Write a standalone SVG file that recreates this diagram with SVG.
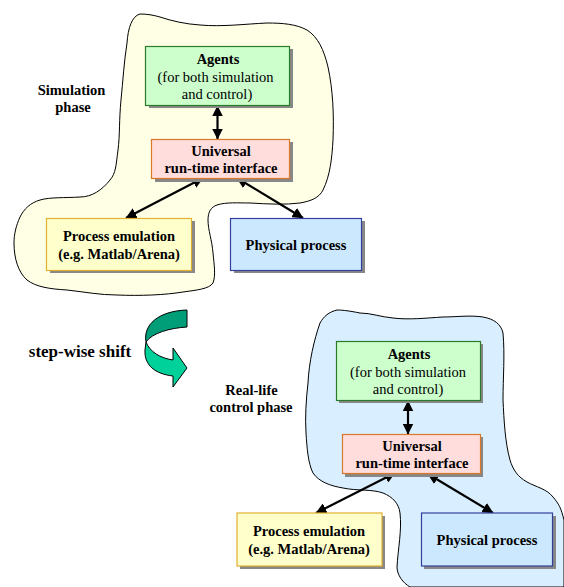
<svg xmlns="http://www.w3.org/2000/svg" width="564" height="587" viewBox="0 0 564 587">
<style>
text{font-family:"Liberation Serif","Times New Roman",serif;font-size:14.500px;fill:#000;text-anchor:middle}
.b{font-weight:bold}
.blob{stroke:#000;stroke-width:1}
.sh{fill:#888}
.a{fill:#cfc;stroke:#2a7a2a;stroke-width:1.2}
.u{fill:#fdd;stroke:#d9782a;stroke-width:1.2}
.p{fill:#ffc;stroke:#e0b030;stroke-width:1.2}
.r{fill:#cce8ff;stroke:#33409a;stroke-width:1.2}
.c{stroke:#000;stroke-width:2.200;fill:none;marker-start:url(#s);marker-end:url(#e)}
</style>
<defs>
<marker id="e" viewBox="0 0 10 10" refX="9.500" refY="5" markerWidth="5" markerHeight="5" orient="auto" markerUnits="strokeWidth"><path d="M0 0L10 5L0 10z" fill="#000"/></marker>
<marker id="s" viewBox="0 0 10 10" refX="0.500" refY="5" markerWidth="5" markerHeight="5" orient="auto" markerUnits="strokeWidth"><path d="M10 0L0 5L10 10z" fill="#000"/></marker>
</defs>
<g id="simulation-region"><path class="blob" fill="#ffffe6" d="M127 43C124 62 123 80 121 100C119 120 120 135 118 150C116 165 116 173 110 180C102 190 92 197 80 197C65 198 50 197 40 200C30 203 24 209 20 217C16 226 14 234 14 243C14 258 18 272 27 280C36 287 50 289 67 290C85 292 100 295 117 295C140 296 165 295 183 292C197 290 209 289 213 283C216 275 214 264 213 253C212 240 208 230 208 220C208 212 211 207 217 205C226 202 238 203 250 203C268 204 285 205 300 203C311 201 319 198 323 190C330 176 332 158 333 140C334 115 333 90 328 67C324 50 318 37 307 30C296 24 282 23 267 23C245 24 222 27 200 25C185 24 172 21 160 17C153 15 147 14 140 14C132 16 128 28 127 43z"/></g>
<g id="reallife-region"><path class="blob" fill="#d9efff" d="M320 323C314 340 309 362 308 383C306 400 305 418 306 433C307 448 308 463 313 473C319 482 331 486 343 488C357 491 372 489 383 493C393 497 399 504 400 513C402 530 398 549 397 567C397 575 403 583 410 587L564 587L564 520C561 508 559 504 553 497C547 489 536 487 527 482C518 477 513 470 510 460C505 442 504 420 503 400C503 378 505 355 503 333C501 324 494 319 483 317C470 315 456 317 443 317C426 318 409 320 393 318C381 317 371 313 360 313C350 311 343 310 337 310C329 312 324 316 320 323z"/></g>
<g id="connectors">
<path class="c" d="M217.500 106V139"/>
<path class="c" d="M203 178L126 218"/>
<path class="c" d="M237 178L303 218"/>
<path class="c" d="M408 401V434"/>
<path class="c" d="M395 473L316 513"/>
<path class="c" d="M428 474L493 513"/>
</g>
<g id="agents-1"><rect class="sh" x="149" y="49" width="144" height="59"/><rect class="a" x="145.500" y="46.500" width="144" height="59"/><text class="b" x="218" y="64">Agents</text><text x="215.500" y="82">(for both simulation</text><text x="217" y="99">and control)</text></g>
<g id="interface-1"><rect class="sh" x="155" y="142" width="138" height="40"/><rect class="u" x="151.500" y="139.500" width="138" height="39"/><text class="b" x="221" y="155.500">Universal</text><text class="b" x="221" y="173">run-time interface</text></g>
<g id="emulation-1"><rect class="sh" x="50" y="221" width="145" height="52"/><rect class="p" x="46.500" y="218.500" width="145" height="52"/><text class="b" x="119" y="241">Process emulation</text><text class="b" x="119" y="259">(e.g. Matlab/Arena)</text></g>
<g id="physical-1"><rect class="sh" x="234" y="221" width="131" height="52"/><rect class="r" x="230.500" y="218.500" width="131" height="52"/><text class="b" x="296" y="250">Physical process</text></g>
<g id="agents-2"><rect class="sh" x="339" y="344" width="144" height="59"/><rect class="a" x="336.500" y="341.500" width="144" height="59"/><text class="b" x="409" y="359">Agents</text><text x="408" y="377">(for both simulation</text><text x="408" y="394">and control)</text></g>
<g id="interface-2"><rect class="sh" x="345" y="437" width="138" height="40"/><rect class="u" x="342.500" y="434.500" width="138" height="39"/><text class="b" x="412" y="450.500">Universal</text><text class="b" x="412" y="468">run-time interface</text></g>
<g id="emulation-2"><rect class="sh" x="240" y="516" width="145" height="53"/><rect class="p" x="237" y="513" width="145" height="53"/><text class="b" x="309" y="536">Process emulation</text><text class="b" x="309" y="554">(e.g. Matlab/Arena)</text></g>
<g id="physical-2"><rect class="sh" x="424" y="516" width="132" height="53"/><rect class="r" x="421.500" y="513" width="131" height="53"/><text class="b" x="487" y="545">Physical process</text></g>
<g id="labels">
<text class="b" x="71.500" y="95">Simulation</text><text class="b" x="73" y="112">phase</text>
<text class="b" x="251.500" y="395">Real-life</text><text class="b" x="251" y="412">control phase</text>
<text class="b" x="80" y="357" style="font-size:17px">step-wise shift</text>
</g>
<g id="shift-arrow">
<path fill="#00d09a" stroke="#000" d="M146 342C150 352 160 358 173 360V348L187 368L173 387V376C155 374 144 365 145 350z"/>
<path fill="#009e78" stroke="#000" d="M187 327C170 328 152 333 146 342C143 325 158 311 187 310z"/>
</g>
</svg>
